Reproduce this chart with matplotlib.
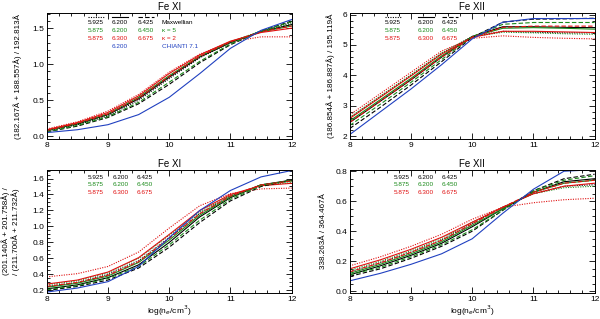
import numpy as np
import matplotlib.pyplot as plt
from matplotlib.ticker import MultipleLocator

# density grid, log(n_e / cm^-3)
logn = [8.0, 8.5, 9.0, 9.5, 10.0, 10.5, 11.0, 11.5, 12.0]

# each colour: [dotted (low T), solid (mid T), dashed (high T)]
# Fe XI, top left
fe11a_black = [[0.07, 0.16, 0.28, 0.50, 0.80, 1.09, 1.30, 1.46, 1.58],
               [0.08, 0.17, 0.30, 0.52, 0.82, 1.10, 1.30, 1.45, 1.55],
               [0.06, 0.14, 0.26, 0.45, 0.72, 1.02, 1.27, 1.46, 1.60]]
fe11a_green = [[0.08, 0.17, 0.30, 0.53, 0.83, 1.11, 1.31, 1.46, 1.56],
               [0.08, 0.18, 0.31, 0.54, 0.84, 1.11, 1.31, 1.45, 1.53],
               [0.06, 0.15, 0.27, 0.47, 0.75, 1.04, 1.28, 1.46, 1.59]]
fe11a_red = [[0.10, 0.20, 0.35, 0.58, 0.89, 1.14, 1.31, 1.38, 1.38],
             [0.09, 0.19, 0.33, 0.56, 0.87, 1.13, 1.32, 1.44, 1.50],
             [0.08, 0.18, 0.31, 0.53, 0.83, 1.11, 1.31, 1.45, 1.53]]
fe11a_blue = [0.05, 0.09, 0.16, 0.30, 0.54, 0.87, 1.22, 1.47, 1.62]

# Fe XII, top right
fe12a_black = [[2.60, 3.30, 4.00, 4.72, 5.28, 5.45, 5.42, 5.40, 5.40],
               [2.45, 3.15, 3.85, 4.60, 5.28, 5.60, 5.60, 5.58, 5.57],
               [2.25, 2.95, 3.68, 4.45, 5.25, 5.75, 5.85, 5.86, 5.88]]
fe12a_green = [[2.62, 3.32, 4.02, 4.74, 5.27, 5.42, 5.40, 5.37, 5.35],
               [2.50, 3.20, 3.90, 4.64, 5.27, 5.55, 5.57, 5.55, 5.52],
               [2.35, 3.05, 3.77, 4.52, 5.27, 5.68, 5.74, 5.74, 5.74]]
fe12a_red = [[2.70, 3.40, 4.10, 4.80, 5.22, 5.30, 5.25, 5.22, 5.20],
             [2.58, 3.28, 3.98, 4.70, 5.25, 5.45, 5.45, 5.43, 5.41],
             [2.45, 3.15, 3.86, 4.60, 5.26, 5.58, 5.62, 5.62, 5.62]]
fe12a_blue = [2.05, 2.80, 3.55, 4.35, 5.20, 5.75, 5.87, 5.87, 5.87]

# Fe XI, bottom left
fe11b_black = [[0.25, 0.30, 0.40, 0.57, 0.86, 1.16, 1.38, 1.52, 1.57],
               [0.22, 0.27, 0.36, 0.52, 0.80, 1.12, 1.36, 1.52, 1.58],
               [0.20, 0.25, 0.33, 0.48, 0.74, 1.05, 1.32, 1.50, 1.58]]
fe11b_green = [[0.27, 0.32, 0.42, 0.60, 0.89, 1.18, 1.39, 1.51, 1.55],
               [0.24, 0.29, 0.38, 0.55, 0.83, 1.14, 1.37, 1.52, 1.57],
               [0.21, 0.26, 0.35, 0.50, 0.77, 1.08, 1.34, 1.51, 1.58]]
fe11b_red = [[0.37, 0.41, 0.50, 0.68, 0.98, 1.26, 1.41, 1.47, 1.48],
             [0.28, 0.33, 0.43, 0.61, 0.90, 1.20, 1.40, 1.51, 1.54],
             [0.25, 0.30, 0.39, 0.56, 0.85, 1.16, 1.38, 1.52, 1.57]]
fe11b_blue = [0.18, 0.23, 0.31, 0.50, 0.86, 1.20, 1.45, 1.62, 1.70]

# Fe XII, bottom right
fe12b_black = [[0.13, 0.19, 0.26, 0.34, 0.45, 0.56, 0.65, 0.70, 0.71],
               [0.11, 0.17, 0.24, 0.32, 0.43, 0.55, 0.66, 0.73, 0.75],
               [0.10, 0.15, 0.22, 0.30, 0.40, 0.54, 0.67, 0.75, 0.78]]
fe12b_green = [[0.14, 0.20, 0.27, 0.35, 0.46, 0.56, 0.65, 0.69, 0.70],
               [0.12, 0.18, 0.25, 0.33, 0.44, 0.55, 0.66, 0.72, 0.74],
               [0.11, 0.16, 0.23, 0.31, 0.41, 0.54, 0.67, 0.74, 0.77]]
fe12b_red = [[0.17, 0.23, 0.30, 0.38, 0.48, 0.56, 0.59, 0.61, 0.62],
             [0.15, 0.21, 0.28, 0.36, 0.46, 0.56, 0.65, 0.70, 0.72],
             [0.13, 0.19, 0.26, 0.34, 0.45, 0.56, 0.66, 0.72, 0.74]]
fe12b_blue = [0.07, 0.12, 0.18, 0.25, 0.35, 0.52, 0.68, 0.80, 0.81]

# temperatures shown in the in-panel key
temps_maxw = ['5.925', '6.200', '6.425']
temps_k5 = ['5.875', '6.200', '6.450']
temps_k2 = ['5.875', '6.300', '6.675']
temp_chianti = '6.200'

BLACK, GREEN, RED, BLUE = 'black', '#1a8a1a', '#e01010', '#2040c0'
styles = [(0, (1, 1.2)), '-', (0, (4, 2))]
KEYSIZE = 4.6

plt.rcParams['font.family'] = ['Liberation Sans', 'DejaVu Sans']

fig = plt.figure(figsize=(6, 3.19), dpi=100)
ax_tl = fig.add_axes([0.078, 0.564, 0.408, 0.395])
ax_tr = fig.add_axes([0.583, 0.564, 0.408, 0.395])
ax_bl = fig.add_axes([0.078, 0.082, 0.408, 0.386])
ax_br = fig.add_axes([0.583, 0.082, 0.408, 0.386])


def draw(ax, black, green, red, blue):
    for i in range(3):
        ax.plot(logn, black[i], color=BLACK, ls=styles[i], lw=0.8)
        ax.plot(logn, green[i], color=GREEN, ls=styles[i], lw=0.8)
        ax.plot(logn, red[i], color=RED, ls=styles[i], lw=0.8)
    ax.plot(logn, blue, color=BLUE, lw=0.8)


def style(ax, title, ylim, ymaj, ymin):
    ax.set_xlim(8, 12)
    ax.set_ylim(*ylim)
    ax.xaxis.set_major_locator(MultipleLocator(1))
    ax.xaxis.set_minor_locator(MultipleLocator(0.2))
    ax.yaxis.set_major_locator(MultipleLocator(ymaj))
    ax.yaxis.set_minor_locator(MultipleLocator(ymin))
    ax.tick_params(which='both', direction='in', top=True, right=True,
                   labelsize=6, width=0.6, pad=2)
    ax.tick_params(which='major', length=4)
    ax.tick_params(which='minor', length=2)
    for s in ax.spines.values():
        s.set_linewidth(0.7)
    ax.set_title(title, fontsize=7, pad=2)


def key(ax, xs, ys, chianti=False, samples=False):
    rows = [(temps_maxw, BLACK), (temps_k5, GREEN), (temps_k2, RED)]
    for r, (temps, c) in enumerate(rows):
        for j, t in enumerate(temps):
            ax.text(xs[j], ys[r], t, color=c, fontsize=KEYSIZE,
                    transform=ax.transAxes, va='center')
    if samples:
        for j in range(3):
            ax.plot([xs[j], xs[j] + 0.065], [ys[0] + 0.042] * 2,
                    color=BLACK, ls=styles[j], lw=0.8,
                    transform=ax.transAxes)
    if chianti:
        labels = ['Maxwellian', 'κ = 5', 'κ = 2']
        for r, (lab, c) in enumerate(zip(labels, [BLACK, GREEN, RED])):
            ax.text(xs[3], ys[r], lab, color=c, fontsize=KEYSIZE,
                    transform=ax.transAxes, va='center')
        ax.text(xs[1], ys[3], temp_chianti, color=BLUE, fontsize=KEYSIZE,
                transform=ax.transAxes, va='center')
        ax.text(xs[3], ys[3], 'CHIANTI 7.1', color=BLUE, fontsize=KEYSIZE,
                transform=ax.transAxes, va='center')


draw(ax_tl, fe11a_black, fe11a_green, fe11a_red, fe11a_blue)
style(ax_tl, 'Fe XI', (-0.04, 1.71), 0.5, 0.1)
ax_tl.set_yticks([0.0, 0.5, 1.0, 1.5], ['0.0', '0.5', '1.0', '1.5'])
ax_tl.set_ylabel('(182.167Å + 188.557Å) / 192.813Å', fontsize=5.8)
ax_tl.yaxis.set_label_coords(-0.1, 0.5)
key(ax_tl, [0.167, 0.265, 0.371, 0.47], [0.925, 0.862, 0.799, 0.736],
    chianti=True, samples=True)

draw(ax_tr, fe12a_black, fe12a_green, fe12a_red, fe12a_blue)
style(ax_tr, 'Fe XII', (1.9, 6.05), 1, 0.2)
ax_tr.set_ylabel('(186.854Å + 186.887Å) / 195.119Å', fontsize=5.8)
ax_tr.yaxis.set_label_coords(-0.06, 0.5)
key(ax_tr, [0.143, 0.278, 0.376], [0.925, 0.862, 0.799], samples=True)

draw(ax_bl, fe11b_black, fe11b_green, fe11b_red, fe11b_blue)
style(ax_bl, 'Fe XI', (0.17, 1.71), 0.2, 0.05)
ax_bl.set_ylabel('(201.140Å + 201.758Å) /\n/ (211.700Å + 211.732Å)',
                 fontsize=5.8, linespacing=1.25)
ax_bl.yaxis.set_label_coords(-0.11, 0.5)
ax_bl.set_xlabel('log(n$_e$/cm$^3$)', fontsize=6, labelpad=1)
key(ax_bl, [0.167, 0.269, 0.367], [0.94, 0.876, 0.812])

draw(ax_br, fe12b_black, fe12b_green, fe12b_red, fe12b_blue)
style(ax_br, 'Fe XII', (-0.01, 0.81), 0.2, 0.05)
ax_br.set_ylabel('338.263Å / 364.467Å', fontsize=5.8)
ax_br.yaxis.set_label_coords(-0.094, 0.5)
ax_br.set_xlabel('log(n$_e$/cm$^3$)', fontsize=6, labelpad=1)
key(ax_br, [0.18, 0.278, 0.376], [0.94, 0.876, 0.812])

fig.savefig('out.png', dpi=100)
